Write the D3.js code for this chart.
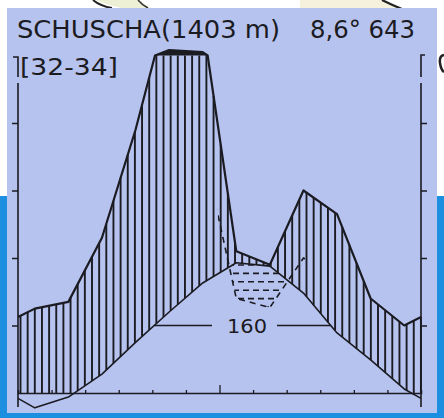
<!DOCTYPE html>
<html><head><meta charset="utf-8">
<script src="https://cdn.jsdelivr.net/npm/d3@7"></script>
<style>html,body{margin:0;padding:0;background:#fff;}svg{display:block;}</style>
</head><body>
<script>
// ---- data (Walter–Lieth climate diagram, Schuscha) ----
const months = ["J","F","M","A","M","J","J","A","S","O","N","D"];
const temperature = [-2.2, -0.6, 2.8, 7.5, 12.0, 16.3, 19.3, 18.8, 14.8, 8.9, 4.9, 0.6];
const precipitation = [25, 27, 46, 78, 116, 110, 42, 38, 60, 53, 28, 20];
const tempTicks = [10, 20, 30, 40];
const precTicks = [20, 40, 60, 80];
const stationLabel = "SCHUSCHA(1403 m)";
const summaryLabel = "8,6° 643";
const yearsLabel = "[32-34]";
const periodLabel = "160";
const periodThreshold = 10;

const W = 444, H = 418;
const svg = d3.select("body").append("svg").attr("width", W).attr("height", H);
const ink = "#1b1b22";

// backdrop (scan surroundings)
svg.append("rect").attr("width", W).attr("height", H).attr("fill", "#ffffff");
svg.append("path").attr("d","M96,0 Q110,6 122,8 L150,8 Q143,3 140,0 Z").attr("fill","#eef0d6");
svg.append("path").attr("d","M93,0 Q100,6 112,8").attr("fill","none").attr("stroke","#222").attr("stroke-width",2);
svg.append("path").attr("d","M138,0 Q142,5 148,8").attr("fill","none").attr("stroke","#333").attr("stroke-width",1.5);
svg.append("path").attr("d","M300,0 L385,0 Q392,5 400,8 L300,8 Z").attr("fill","#f6f1dc");
svg.append("path").attr("d","M382,0 Q392,5 402,9").attr("fill","none").attr("stroke","#222").attr("stroke-width",2.2);
svg.append("rect").attr("x",0).attr("y",196).attr("width",8).attr("height",H-196).attr("fill","#1c8fe0");
svg.append("rect").attr("x",437).attr("y",196).attr("width",7).attr("height",H-196).attr("fill","#1c8fe0");
svg.append("rect").attr("x",0).attr("y",412).attr("width",W).attr("height",6).attr("fill","#1c8fe0");
svg.append("rect").attr("x",7).attr("y",8).attr("width",430).attr("height",405).attr("fill","#b7c3ef");
svg.append("path").attr("d","M444,55 Q439,56 440,63 Q441,70 444,72").attr("fill","none").attr("stroke","#222").attr("stroke-width",2.5);

// ---- scales ----
const x = d3.scaleLinear().domain([0, 12]).range([18, 421]);
const yT = d3.scaleLinear().domain([0, 50]).range([393, 55.5]);
const yP = d3.scaleLinear().domain([0, 100, 300]).range([393, 55.5, 55.5 - 67.5]);
const yP3 = d3.scaleLinear().domain([0, 150]).range([393, 55.5]);
const base = yT(0);

const edgeT = (temperature[11] + temperature[0]) / 2;
const edgeP = (precipitation[11] + precipitation[0]) / 2;
const tSeries = [[0, edgeT], ...temperature.map((v, i) => [i + 0.5, v]), [12, edgeT]];
const pRaw = [[0, edgeP], ...precipitation.map((v, i) => [i + 0.5, v]), [12, edgeP]];
// insert 100 mm crossings so scale change appears as corners
const pSeries = [];
pRaw.forEach((d, i) => {
  if (i > 0) {
    const a = pRaw[i - 1];
    if ((a[1] - 100) * (d[1] - 100) < 0) {
      const f = (100 - a[1]) / (d[1] - a[1]);
      pSeries.push([a[0] + f * (d[0] - a[0]), 100]);
    }
  }
  pSeries.push(d);
});
const tPts = tSeries.map(d => [x(d[0]), yT(d[1])]);
const pPts = pSeries.map(d => [x(d[0]), yP(d[1])]);
const p3Pts = pRaw.map(d => [x(d[0]), yP3(d[1])]);

function interp(pts, px) {
  for (let i = 1; i < pts.length; i++) {
    if (px <= pts[i][0]) {
      const a = pts[i - 1], b = pts[i];
      const f = (px - a[0]) / (b[0] - a[0]);
      return a[1] + f * (b[1] - a[1]);
    }
  }
  return pts[pts.length - 1][1];
}

// ---- humid hatching ----
const hatch = svg.append("g").attr("stroke", ink).attr("stroke-width", 1.9);
for (let hx = x(0) + 2.5; hx < x(12); hx += 7.15) {
  const top = Math.max(interp(pPts, hx), yP(100));
  const bot = Math.min(interp(tPts, hx), base);
  if (top < bot - 0.5) hatch.append("line").attr("x1", hx).attr("x2", hx).attr("y1", top).attr("y2", bot);
}
// black fill above 100 mm
const xs = d3.range(x(0), x(12) + 0.01, 0.5);
svg.append("path")
  .attr("d", d3.area().x(d => d).y0(yP(100)).y1(d => Math.min(interp(pPts, d), yP(100)))(xs))
  .attr("fill", ink);

// ---- relative dry period (1:3 scale) ----
const defs = svg.append("defs");
defs.append("clipPath").attr("id", "dry").append("path")
  .attr("d", d3.area().x(d => d).y0(d => interp(tPts, d)).y1(d => Math.max(interp(tPts, d), interp(p3Pts, d)))(xs));
const dryG = svg.append("g").attr("clip-path", "url(#dry)");
let row = 0;
for (let ry = yT(20) + 7; ry < base; ry += 8.4, row++) {
  dryG.append("line").attr("x1", x(0)).attr("x2", x(12)).attr("y1", ry).attr("y2", ry)
    .attr("stroke", ink).attr("stroke-width", 1.6).attr("stroke-dasharray", "6,4")
    .attr("stroke-dashoffset", row % 2 ? 5 : 0);
}
defs.append("clipPath").attr("id", "dashzone").append("rect")
  .attr("x", x(5.95)).attr("y", 0).attr("width", x(8.55) - x(5.95)).attr("height", H);
svg.append("path").attr("d", d3.line()(p3Pts)).attr("clip-path", "url(#dashzone)")
  .attr("fill", "none").attr("stroke", ink).attr("stroke-width", 1.6).attr("stroke-dasharray", "6,5");

// ---- curves ----
svg.append("path").attr("d", d3.line()(pPts)).attr("fill", "none").attr("stroke", ink).attr("stroke-width", 2.2).attr("stroke-linejoin", "round");
svg.append("path").attr("d", d3.line()(tPts)).attr("fill", "none").attr("stroke", ink).attr("stroke-width", 1.6).attr("stroke-linejoin", "round");

// ---- axes ----
const yLeft = d3.axisLeft(yT).tickValues(tempTicks).tickSize(6).tickFormat("");
const yRight = d3.axisRight(yP).tickValues(precTicks).tickSize(6).tickFormat("");
const gl = svg.append("g").attr("transform", `translate(${x(0)},0)`).call(yLeft);
const gr = svg.append("g").attr("transform", `translate(${x(12)},0)`).call(yRight);
[gl, gr].forEach(g => { g.select(".domain").remove(); g.selectAll("line").attr("stroke", ink).attr("stroke-width", 1.5); });
const axisG = svg.append("g").attr("stroke", ink).attr("fill", "none").attr("stroke-width", 1.6);
axisG.append("path").attr("d", `M${x(0)-5},57 L${x(0)},57 L${x(0)},77 M${x(0)},83 L${x(0)},407`);
axisG.append("path").attr("d", `M${x(12)+4},55 L${x(12)},55 L${x(12)},77 M${x(12)},83 L${x(12)},407`);
const xAxis = d3.axisTop(x).tickValues(d3.range(1, 12)).tickSize(3).tickFormat("");
const gx = svg.append("g").attr("transform", `translate(0,${base})`).call(xAxis);
gx.select(".domain").attr("stroke", ink).attr("stroke-width", 1.5);
gx.selectAll("line").attr("stroke", ink).attr("stroke-width", 1.3).attr("y2", (d) => d === 6 ? -8 : -3);

// ---- period > 10°C line ----
function crossings(th) {
  const out = [];
  for (let i = 1; i < tSeries.length; i++) {
    const a = tSeries[i - 1], b = tSeries[i];
    if ((a[1] - th) * (b[1] - th) < 0) out.push(a[0] + (th - a[1]) / (b[1] - a[1]) * (b[0] - a[0]));
  }
  return out;
}
const cr = crossings(periodThreshold);
const py = yT(periodThreshold);
const labelX = 247;
svg.append("line").attr("x1", x(cr[0])).attr("x2", labelX - 35).attr("y1", py).attr("y2", py).attr("stroke", ink).attr("stroke-width", 1.5);
svg.append("line").attr("x1", labelX + 30).attr("x2", x(cr[1])).attr("y1", py).attr("y2", py).attr("stroke", ink).attr("stroke-width", 1.5);
svg.append("text").attr("x", labelX).attr("y", py + 7).attr("text-anchor", "middle")
  .attr("font-family", "DejaVu Sans").attr("font-size", 20).attr("fill", ink)
  .attr("textLength", 40).attr("lengthAdjust", "spacingAndGlyphs").text(periodLabel);

// ---- texts ----
const font = "DejaVu Sans";
svg.append("text").attr("x", 17).attr("y", 38).attr("font-family", font).attr("font-size", 24)
  .attr("fill", ink).attr("textLength", 263).attr("lengthAdjust", "spacingAndGlyphs").text(stationLabel);
svg.append("text").attr("x", 310).attr("y", 38).attr("font-family", font).attr("font-size", 24)
  .attr("fill", ink).attr("textLength", 105).attr("lengthAdjust", "spacingAndGlyphs").text(summaryLabel);
svg.append("text").attr("x", 20).attr("y", 75).attr("font-family", font).attr("font-size", 23)
  .attr("fill", ink).attr("textLength", 98).attr("lengthAdjust", "spacingAndGlyphs").text(yearsLabel);
</script>
</body></html>
